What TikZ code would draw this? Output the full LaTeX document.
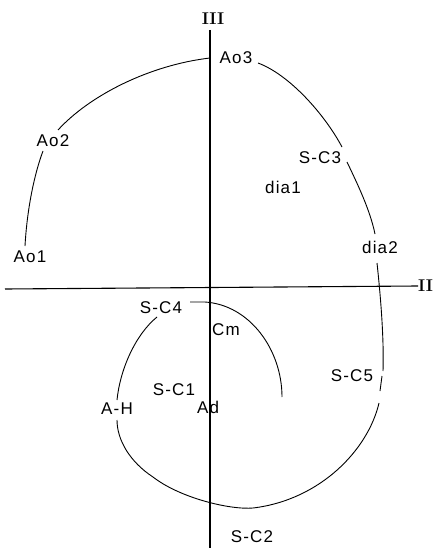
\documentclass[tikz,border=0pt]{standalone}
\usepackage{fontspec}
\newfontfamily\lblfont[LetterSpace=7]{Liberation Sans}
\begin{document}
\begin{tikzpicture}[x=1pt,y=-1pt,
  lbl/.style={font=\lblfont\fontsize{17}{17}\selectfont, inner sep=0pt},
  axlbl/.style={font=\fontsize{17}{17}\selectfont\bfseries, inner sep=0pt},
  curve/.style={line width=0.9pt},
  axis/.style={line width=1.1pt}]
\useasboundingbox (0,0) rectangle (432,548);
% axes
\node[axlbl] (axIII) at (213,19) {III};
\node[axlbl, anchor=west] (axII) at (418,286) {II};
\coordinate (ytop) at (210,30);
\coordinate (ybot) at (210,548);
\coordinate (xleft) at (5,289);
\draw[axis] (ytop) -- (ybot);
\draw[axis] (xleft) -- (axII.west);

% labels
\node[lbl] (ao1) at (30,257) {Ao1};
\node[lbl] (ao2) at (53,141) {Ao2};
\node[lbl] (ao3) at (236,58) {Ao3};
\node[lbl] (sc3) at (320,158) {S-C3};
\node[lbl] (dia1) at (283,187) {dia1};
\node[lbl] (dia2) at (380,247) {dia2};
\node[lbl] (sc4) at (161,308) {S-C4};
\node[lbl] (cm) at (226,330) {Cm};
\node[lbl] (sc5) at (352,376) {S-C5};
\node[lbl] (sc1) at (174,390) {S-C1};
\node[lbl] (ad) at (208,407) {Ad};
\node[lbl] (ah) at (117,409) {A-H};
\node[lbl] (sc2) at (252,537) {S-C2};

% loop
\draw[curve] (25,246) .. controls (27,210) and (34,175) .. (43,151);
\draw[curve] (58,130) .. controls (90,95) and (150,65) .. (210,58);
\draw[curve] (258,63) .. controls (290,75) and (325,115) .. (342,147);
\draw[curve] (347,162) .. controls (358,185) and (370,210) .. (375,234);
\draw[curve] (377,263) .. controls (381,300) and (384,340) .. (383,371);
\draw[curve] (382,376) -- (380,391);
\draw[curve] (379,403) .. controls (368,450) and (320,500) .. (253,508)
  .. controls (230,510) and (180,498) .. (153,477)
  .. controls (130,462) and (117,440) .. (117,420);
\draw[curve] (117,400) .. controls (120,370) and (135,335) .. (157,317);
\draw[curve] (190,302) -- (205,302) .. controls (250,305) and (282,350) .. (282,397);
\end{tikzpicture}
\end{document}
